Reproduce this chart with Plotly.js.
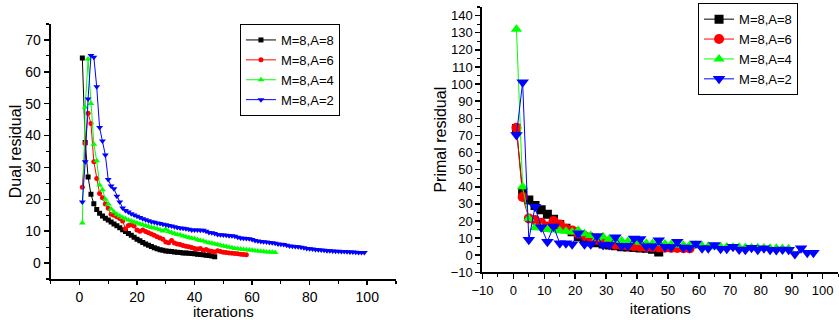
<!DOCTYPE html>
<html>
<head>
<meta charset="utf-8">
<script src="https://cdn.plot.ly/plotly-3.0.1.min.js"></script>
<style>html,body{margin:0;padding:0;background:#fff}#chart{width:839px;height:320px}</style>
</head>
<body>
<div id="chart"></div>
<script>
// iteration indices
const iterations = [1,2,3,4,5,6,7,8,9,10,11,12,13,14,15,16,17,18,19,20,21,22,23,24,25,26,27,28,29,30,31,32,33,34,35,36,37,38,39,40,41,42,43,44,45,46,47,48,49,50,51,52,53,54,55,56,57,58,59,60,61,62,63,64,65,66,67,68,69,70,71,72,73,74,75,76,77,78,79,80,81,82,83,84,85,86,87,88,89,90,91,92,93,94,95,96,97,98,99];
const oddIterations = [1,3,5,7,9,11,13,15,17,19,21,23,25,27,29,31,33,35,37,39,41,43,45,47,49,51,53,55,57,59,61,63,65,67,69,71,73,75,77,79,81,83,85,87,89,91,93,95,97];
const seriesNames = ["M=8,A=8","M=8,A=6","M=8,A=4","M=8,A=2"];

// Dual residual (left)
const dualA8 = [64.3,37.8,27,21.6,18.6,16.8,15.6,14.8,14.1,13.5,12.9,12.3,11.7,11.1,10.5,9.9,9.3,8.7,8.1,7.5,7.0,6.5,6.0,5.6,5.2,4.8,4.5,4.2,4.0,3.8,3.7,3.6,3.5,3.4,3.3,3.2,3.15,3.1,3.0,2.9,2.8,2.7,2.6,2.5,2.35,2.2,2.0];
const dualA6 = [23.8,37.5,47,43.8,31.8,26.5,21.8,20.5,18.5,17.2,15.3,15.0,14.5,14.0,13.2,10.8,11.8,12.0,11.6,10.4,10.0,10.4,9.9,9.5,9.1,8.7,8.3,7.9,7.5,6.6,6.4,7.1,6.3,6.0,5.8,5.5,5.3,5.1,4.9,4.6,4.4,4.6,4.0,4.3,3.9,3.7,3.5,3.9,3.6,3.4,3.3,3.2,3.1,3.0,2.9,2.8,2.7,2.6];
const dualA4 = [12.6,48.9,64.0,50.1,37.3,32.1,24.5,23.0,20.0,18.5,17.0,16.0,15.3,14.8,14.3,13.9,13.5,13.2,12.9,12.6,12.3,12.0,11.7,11.5,11.2,11.0,10.8,10.5,10.1,10.6,9.9,9.6,9.3,9.0,8.8,8.5,8.3,8.0,7.8,7.6,7.3,7.1,6.9,6.6,6.4,6.2,6.0,5.8,5.6,5.4,5.2,5.0,4.8,4.6,4.5,4.4,4.3,4.2,4.1,4.0,3.9,3.8,3.7,3.6,3.5,3.45,3.4,3.35];
const dualA2 = [19.2,31.8,51.5,65.1,64.6,55.3,42.5,38.3,33.9,26.2,24.2,23.3,21.0,19.2,17.3,16.5,16.0,15.5,15.1,14.7,14.3,13.9,13.6,13.3,13.0,12.8,12.6,12.4,12.2,12.0,11.8,11.6,11.4,11.2,11.0,10.9,10.8,10.6,10.4,10.4,10.4,10.3,10.3,10.0,9.6,9.5,9.3,9.0,8.9,8.8,8.7,8.6,8.6,8.4,8.1,7.9,7.8,7.7,7.6,7.4,7.1,6.9,6.8,6.7,6.6,6.5,6.4,6.2,6.0,5.9,5.8,5.6,5.4,5.3,5.2,5.1,5.0,4.8,4.6,4.5,4.4,4.3,4.2,4.1,4.0,3.9,3.85,3.8,3.75,3.7,3.65,3.6,3.55,3.5,3.45,3.4,3.35,3.3,3.3];

// Primal residual (right)
const primalA8 = [74,37,32.3,29,26.5,24,21,18,15.7,13.7,10.8,9.3,7.9,7.3,6.5,6.0,5.5,5.0,4.8,4.5,4.2,4.0,3.5,1.8];
const primalA6 = [74.5,34,21.5,20.5,19,16.8,20,18,15.5,14.5,12.5,11.2,10.5,9,7.5,6.8,6.2,5.8,5.5,5.3,5.0,4.8,4.6,4.5,4.4,4.3,4.2,4.1,4.0];
const primalA4 = [132,40,21.5,16,16,15,14.8,14.3,14,13.5,14.5,12.5,11.5,10,10.8,9.5,9,8.5,8,8.2,7.5,7,6.8,7,6.5,6.3,6,5.8,5.6,5.8,5.4,5.2,5.0,4.9,4.8,4.7,4.6,4.5,4.4,4.3,4.2,4.1,4.0,3.9,3.8];
const primalA2 = [70.3,101,9,28.3,16.3,7.9,16.7,7,7,6.4,12.8,6.4,6.4,11.2,6,6,10.5,5.5,5.5,9.8,9.5,5.3,5.2,8.8,5,4.8,7.9,4.5,4.3,6.9,4.1,4,6,3.8,3.7,5,3.4,3.2,4.4,3.2,4.0,3.2,3.0,3.3,3.2,0.7,4.0,1.5,1.5];

const colors = ["#000000","#ff0000","#00ff00","#0000ff"];
const symbolsL = ["square","circle","triangle-up","triangle-down"];
const dualSets = [dualA8, dualA6, dualA4, dualA2];
const primalSets = [primalA8, primalA6, primalA4, primalA2];
const leftSizes = [5,5,6,6];
const rightSizes = [9,10,10,11];

const traces = [];
dualSets.forEach((ys, i) => {
  traces.push({
    x: iterations.slice(0, ys.length), y: ys, type: "scatter", mode: "lines+markers",
    name: seriesNames[i], xaxis: "x", yaxis: "y", legend: "legend",
    line: {color: colors[i], width: 1},
    marker: {color: colors[i], symbol: symbolsL[i], size: leftSizes[i]}
  });
});
primalSets.forEach((ys, i) => {
  traces.push({
    x: oddIterations.slice(0, ys.length), y: ys, type: "scatter", mode: "lines+markers",
    name: seriesNames[i], xaxis: "x2", yaxis: "y2", legend: "legend2",
    line: {color: colors[i], width: 1},
    marker: {color: colors[i], symbol: symbolsL[i], size: rightSizes[i]}
  });
});

const FONT = "Liberation Sans, Arial, sans-serif";
function minor(d) {
  return {ticks: "outside", ticklen: 3, tickwidth: 1.2, tickcolor: "#000", dtick: d, tick0: 0, showgrid: false};
}
function axis(extra) {
  return Object.assign({
    showgrid: false, zeroline: false, showline: true, linecolor: "#000", linewidth: 2,
    ticks: "outside", ticklen: 5, tickwidth: 1.5, tickcolor: "#000",
    tickfont: {family: FONT, size: 13, color: "#000"}
  }, extra);
}

const layout = {
  width: 839, height: 320,
  margin: {l: 0, r: 0, t: 0, b: 0},
  paper_bgcolor: "#fff", plot_bgcolor: "#fff",
  font: {family: FONT, color: "#000"},
  showlegend: true,
  xaxis: axis({domain: [0.0604, 0.472], anchor: "y", range: [-10, 110], tick0: 0, dtick: 20,
    minor: minor(10), ticklen: 4,
    tickfont: {family: FONT, size: 14, color: "#000"},
    title: {text: "iterations", font: {family: FONT, size: 15, color: "#000"}, standoff: 3}}),
  yaxis: axis({domain: [0.128, 0.925], anchor: "x", range: [-5, 75], tick0: 0, dtick: 10,
    minor: minor(5),
    tickfont: {family: FONT, size: 14, color: "#000"},
    title: {text: "Dual residual", font: {family: FONT, size: 16, color: "#000"}, standoff: 0}}),
  xaxis2: axis({domain: [0.575, 0.999], anchor: "y2", range: [-10, 105], tick0: 0, dtick: 10,
    minor: minor(5),
    title: {text: "iterations", font: {family: FONT, size: 15, color: "#000"}, standoff: 7}}),
  yaxis2: axis({domain: [0.149, 0.978], anchor: "x2", range: [-10, 145], tick0: 0, dtick: 10,
    minor: minor(5),
    title: {text: "Primal residual", font: {family: FONT, size: 16, color: "#000"}, standoff: 0}}),
  legend: {x: 0.286, y: 0.925, xanchor: "left", yanchor: "top", bgcolor: "#fff",
    bordercolor: "#000", borderwidth: 1, font: {family: FONT, size: 13, color: "#000"},
    tracegroupgap: 0, itemwidth: 30},
  legend2: {x: 0.832, y: 0.99, xanchor: "left", yanchor: "top", bgcolor: "#fff",
    bordercolor: "#000", borderwidth: 1, font: {family: FONT, size: 13, color: "#000"},
    tracegroupgap: 0, itemwidth: 30}
};

Plotly.newPlot("chart", traces, layout, {displayModeBar: false, staticPlot: true});
</script>
</body>
</html>
